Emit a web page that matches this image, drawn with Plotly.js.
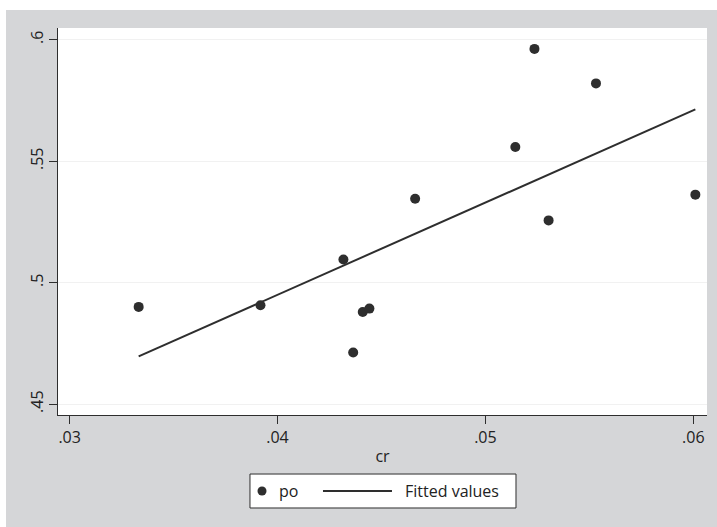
<!DOCTYPE html>
<html>
<head>
<meta charset="utf-8">
<script src="https://cdn.plot.ly/plotly-3.0.1.min.js"></script>
<style>
html,body{margin:0;padding:0;background:#ffffff;}
#chart{position:absolute;left:6px;top:10px;width:711px;height:517px;}
</style>
</head>
<body>
<div id="chart"></div>
<script>
// Scatter data (cr, po)
const cr = [0.03332, 0.03918, 0.04317, 0.04364, 0.04410, 0.04442, 0.04662, 0.05144, 0.05236, 0.05304, 0.05532, 0.06010];
const po = [0.4900, 0.4907, 0.5095, 0.4712, 0.4879, 0.4893, 0.5345, 0.5558, 0.5962, 0.5256, 0.5820, 0.5362];
// Fitted values line (end points)
const fitX = [0.03332, 0.06010];
const fitY = [0.4696, 0.5713];
// Tick labels
const xTickVals = [0.03, 0.04, 0.05, 0.06];
const xTickText = ['.03', '.04', '.05', '.06'];
const yTickVals = [0.45, 0.5, 0.55, 0.6];
const yTickText = ['.45', '.5', '.55', '.6'];
// Legend labels
const legendNames = ['po', 'Fitted values'];

const fontFam = 'Open Sans, Noto Sans, sans-serif';
const ink = '#2e2e2e';
const txt = '#222222';

const traces = [
  {x: cr, y: po, type: 'scatter', mode: 'markers', name: legendNames[0],
   marker: {color: ink, size: 10}, showlegend: false},
  {x: fitX, y: fitY, type: 'scatter', mode: 'lines', name: legendNames[1],
   line: {color: ink, width: 2}, showlegend: false}
];

// Manual legend (Stata style) in plot-area paper coordinates
const lgY = -0.1964;
const shapes = [
  {type: 'rect', xref: 'paper', yref: 'paper', x0: 0.2958, x1: 0.7057, y0: -0.1525, y1: -0.2403,
   fillcolor: '#ffffff', line: {color: ink, width: 1}, layer: 'above'},
  {type: 'circle', xref: 'paper', yref: 'paper', x0: 0.3074, x1: 0.3213, y0: lgY - 0.0116, y1: lgY + 0.0116,
   fillcolor: ink, line: {color: ink, width: 0}, layer: 'above'},
  {type: 'line', xref: 'paper', yref: 'paper', x0: 0.4083, x1: 0.5146, y0: lgY, y1: lgY,
   line: {color: ink, width: 2}, layer: 'above'}
];
const annotations = [
  {xref: 'paper', yref: 'paper', x: 0.3375, y: lgY, xanchor: 'left', yanchor: 'middle',
   text: legendNames[0], showarrow: false, font: {family: fontFam, size: 16, color: txt}},
  {xref: 'paper', yref: 'paper', x: 0.5316, y: lgY, xanchor: 'left', yanchor: 'middle',
   text: legendNames[1], showarrow: false, font: {family: fontFam, size: 16, color: txt}}
];

const layout = {
  width: 711, height: 517,
  paper_bgcolor: '#d5d6d8',
  plot_bgcolor: '#ffffff',
  margin: {l: 52, r: 10, t: 18, b: 112, pad: 0},
  font: {family: fontFam, size: 15, color: txt},
  showlegend: false,
  shapes: shapes,
  annotations: annotations,
  xaxis: {
    range: [0.02944, 0.06066],
    tickvals: xTickVals, ticktext: xTickText,
    ticks: 'outside', ticklen: 8, tickcolor: ink, tickwidth: 1,
    showline: true, linecolor: ink, linewidth: 1,
    showgrid: false, zeroline: false,
    tickfont: {size: 16, color: txt},
    title: {text: 'cr', font: {size: 16, color: txt}, standoff: 3}
  },
  yaxis: {
    range: [0.4455, 0.6048],
    tickvals: yTickVals, ticktext: yTickText,
    ticks: 'outside', ticklen: 8, tickcolor: ink, tickwidth: 1,
    tickangle: -90,
    showline: true, linecolor: ink, linewidth: 1,
    showgrid: true, gridcolor: '#f1f1f1', gridwidth: 1,
    zeroline: false,
    tickfont: {size: 16, color: txt}
  }
};

Plotly.newPlot('chart', traces, layout, {displayModeBar: false, staticPlot: true});
</script>
</body>
</html>
